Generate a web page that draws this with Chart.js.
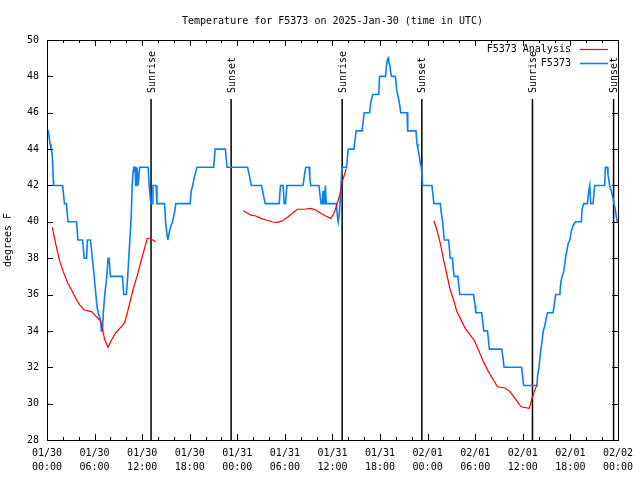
<!DOCTYPE html>
<html>
<head>
<meta charset="utf-8">
<title>Temperature for F5373</title>
<script src="https://cdn.jsdelivr.net/npm/chart.js@4/dist/chart.umd.min.js"></script>
<style>
  html, body { margin: 0; padding: 0; background: #fff; }
  #wrap { width: 640px; height: 480px; }
</style>
</head>
<body>
<div id="wrap"><canvas id="chart" width="640" height="480"></canvas></div>
<script>
// All times are hours after 2025-01-30 00:00 UTC

// Observed temperature (F5373)
const obsHours = [
  0, 0.16, 0.38, 0.50, 0.63, 0.72, 0.79, 0.84, 1.97, 2.20, 2.45, 2.64, 3.73, 3.90, 4.49, 4.69,
  4.99, 5.09, 5.49, 5.65, 5.91, 6.16, 6.32, 6.47, 6.66, 6.79, 6.85, 7.00, 7.10, 7.29, 7.54, 7.70,
  7.83, 8.00, 9.51, 9.68, 10.01, 10.18, 10.34, 10.52, 10.64, 10.74, 10.87, 10.93, 11.12, 11.18,
  11.31, 11.35, 11.43, 11.50, 11.60, 11.69, 12.75, 12.88, 12.98, 13.10, 13.26, 13.36, 13.76,
  13.86, 14.83, 14.95, 15.14, 15.24, 15.46, 15.64, 15.83, 16.08, 16.25, 18.06, 18.18, 18.38,
  18.60, 18.91, 21.02, 21.20, 22.49, 22.71, 25.29, 25.50, 25.76, 27.05, 27.23, 27.52, 29.28,
  29.44, 29.78, 29.91, 30.07, 30.25, 32.29, 32.48, 32.63, 33.05, 33.14, 33.26, 34.30, 34.39,
  34.56, 34.72, 34.81, 34.93, 35.02, 35.10, 35.22, 36.48, 36.63, 36.73, 36.88, 37.01, 37.13,
  37.23, 37.78, 37.99, 38.70, 38.99, 39.74, 40.00, 40.68, 40.84, 41.09, 41.84, 41.93, 42.69,
  42.79, 42.91, 43.01, 43.10, 43.23, 43.35, 43.44, 43.94, 44.11, 44.23, 44.45, 44.61, 45.40,
  45.49, 46.53, 46.66, 46.78, 46.96, 47.08, 47.21, 47.37, 48.54, 48.67, 48.79, 49.60, 49.72,
  49.89, 50.01, 50.10, 50.64, 50.73, 50.85, 51.14, 51.23, 51.36, 51.81, 51.93, 52.06, 53.78,
  53.99, 54.07, 54.82, 54.95, 55.08, 55.54, 55.67, 55.79, 57.34, 57.51, 57.64, 59.85, 59.98,
  60.10, 61.78, 61.86, 62.04, 62.16, 62.29, 62.45, 62.58, 62.79, 62.99, 63.12, 63.83, 64.05,
  64.17, 64.67, 64.80, 64.96, 65.18, 65.38, 65.51, 65.72, 65.93, 66.13, 66.35, 66.64, 67.39,
  67.48, 67.69, 68.15, 68.32, 68.45, 68.57, 68.86, 69.07, 70.33, 70.41, 70.66, 70.74, 70.96,
  71.16, 71.37, 71.50, 71.66, 71.79, 71.92, 72.0
];
const obsTemps = [
  45, 45, 44.3, 44, 43.8, 43.2, 42.3, 42, 42, 41, 41, 40, 40, 39, 39, 38,
  38, 39, 39, 38.3, 37.2, 36, 35.3, 35, 34.7, 34.5, 34, 34, 35, 36, 37, 38,
  38, 37, 37, 36, 36, 37, 38.2, 39.5, 40.5, 42, 42.8, 43, 43, 42,
  42, 43, 43, 42, 42, 43, 43, 42, 42, 41, 41, 42, 42,
  41, 41, 40, 39.3, 39, 39.5, 39.8, 40, 40.5, 41, 41, 41.7, 42,
  42.5, 43, 43, 44, 44, 43, 43, 42.6, 42, 42, 41.6, 41, 41,
  42, 42, 41, 41, 42, 42, 42.6, 43, 43, 42.4, 42, 42, 41.6,
  41, 41, 41.7, 41, 41, 42, 41, 41, 40.3, 40, 40.5, 41.5, 42.5,
  43, 43, 44, 44, 45, 45, 46, 46, 46.6, 47, 47, 48, 48,
  48.5, 48.9, 49, 48.8, 48.6, 48.2, 48, 48, 47.2, 47, 46.5, 46, 46,
  45, 45, 44.3, 44, 43.6, 43.2, 43, 42, 42, 41.5, 41, 41, 40.5,
  40, 39.4, 39, 39, 38.6, 38, 38, 37.4, 37, 37, 36.5, 36, 36,
  35.4, 35, 35, 34.5, 34, 34, 33.5, 33, 33, 32.5, 32, 32, 31.5,
  31, 31, 31.5, 32, 32.5, 33, 33.5, 34, 34.3, 34.8, 35, 35, 35.7,
  36, 36, 36.7, 37, 37.3, 38, 38.3, 38.8, 39, 39.5, 39.8, 40, 40,
  40.7, 41, 41, 41.7, 42, 41, 41, 42, 42, 43, 43, 42.6, 42,
  41.7, 41.3, 41, 40.7, 40.3, 40, 40
];

// Analysis temperature (F5373 Analysis), null marks a gap
const analysisHours = [
  0.67, 1.22, 1.63, 2.05, 2.60, 3.10, 3.73, 4.15, 4.69, 5.62, 6.03, 6.75, 6.91, 7.29, 7.70,
  8.13, 8.67, 9.17, 9.80, 10.22, 10.84, 11.35, 11.90, 12.65, 13.16, 13.70,
  19,
  24.75, 25.30, 25.72, 26.35, 26.98, 27.60, 28.44, 29.07, 29.70, 30.32, 30.95, 31.58, 32.42,
  33.26, 33.89, 34.52, 35.15, 35.78, 36.19, 36.60, 37.03, 37.23, 37.57, 37.74,
  43,
  48.79, 49.17, 49.60, 50.01, 50.30, 50.55, 50.85, 51.27, 51.68, 52.11, 52.74, 53.37, 53.91,
  54.41, 55.04, 55.67, 56.30, 56.80, 57.77, 58.39, 59.02, 59.78, 60.82, 61.11, 61.45, 61.82
];
const analysisTemps = [
  39.7, 38.54, 37.8, 37.26, 36.65, 36.25, 35.7, 35.42, 35.15, 35.06, 34.87, 34.56, 34.23, 33.5, 33.1,
  33.5, 33.9, 34.14, 34.45, 35.15, 36.25, 37.0, 37.9, 39.1, 39.04, 38.9,
  null,
  40.61, 40.47, 40.37, 40.32, 40.19, 40.1, 39.99, 39.97, 40.06, 40.25, 40.47, 40.69, 40.69,
  40.74, 40.65, 40.47, 40.32, 40.19, 40.47, 41.0, 41.66, 42.2, 42.67, 42.94,
  null,
  40.06, 39.55, 38.82, 37.9, 37.35, 36.85, 36.25, 35.7, 35.06, 34.69, 34.14, 33.77, 33.46,
  32.95, 32.31, 31.76, 31.3, 30.93, 30.86, 30.66, 30.29, 29.83, 29.74, 30.2, 30.66, 31.06
];

// Sunrise / sunset markers
const sunHours = [13.12, 23.22, 37.22, 47.27, 61.22, 71.45];
const sunLabels = ['Sunrise', 'Sunset', 'Sunrise', 'Sunset', 'Sunrise', 'Sunset'];

// x tick labels, one per 6 hours
const tickDates = ['01/30', '01/30', '01/30', '01/30', '01/31', '01/31', '01/31', '01/31',
                   '02/01', '02/01', '02/01', '02/01', '02/02'];
const tickTimes = ['00:00', '06:00', '12:00', '18:00', '00:00', '06:00', '12:00', '18:00',
                   '00:00', '06:00', '12:00', '18:00', '00:00'];
const minorStepHours = 2;

const titleText = 'Temperature for F5373 on 2025-Jan-30 (time in UTC)';
const FONT = "10px 'DejaVu Sans Mono', monospace";

Chart.defaults.font.family = "'DejaVu Sans Mono', monospace";
Chart.defaults.font.size = 10;
Chart.defaults.color = '#000';

// gnuplot-like decorations: border, inward ticks, sun markers, key, title
const gnuplotDecor = {
    id: 'gnuplotDecor',
    beforeDatasetsDraw(chart) {
        const { ctx, chartArea: a, scales: { x } } = chart;
        ctx.save();
        ctx.strokeStyle = '#000';
        ctx.fillStyle = '#000';
        ctx.lineWidth = 1.5;
        ctx.font = FONT;
        sunHours.forEach((h, i) => {
            const px = x.getPixelForValue(h);
            ctx.beginPath();
            ctx.moveTo(px, a.top + 59);
            ctx.lineTo(px, a.bottom);
            ctx.stroke();
            ctx.save();
            ctx.translate(px + 1, a.top + 53);
            ctx.rotate(-Math.PI / 2);
            ctx.textAlign = 'left';
            ctx.textBaseline = 'middle';
            ctx.fillText(sunLabels[i], 0, 0);
            ctx.restore();
        });
        ctx.restore();
    },
    afterDatasetsDraw(chart) {
        const { ctx, chartArea: a, scales: { x, y } } = chart;
        ctx.save();
        ctx.strokeStyle = '#000';
        ctx.lineWidth = 1;

        // border
        ctx.strokeRect(Math.round(a.left) + 0.5, Math.round(a.top) + 0.5,
                       Math.round(a.right - a.left), Math.round(a.bottom - a.top));

        ctx.beginPath();
        // y ticks, mirrored on the right
        y.ticks.forEach(t => {
            const py = Math.round(y.getPixelForValue(t.value)) + 0.5;
            ctx.moveTo(a.left, py); ctx.lineTo(a.left + 6, py);
            ctx.moveTo(a.right, py); ctx.lineTo(a.right - 6, py);
        });
        // x ticks: major every 6 h, minor every 2 h, mirrored on top
        for (let h = x.min; h <= x.max; h += minorStepHours) {
            const px = Math.round(x.getPixelForValue(h)) + 0.5;
            const len = (h % 6 === 0) ? 6 : 3;
            ctx.moveTo(px, a.bottom); ctx.lineTo(px, a.bottom - len);
            ctx.moveTo(px, a.top); ctx.lineTo(px, a.top + len);
        }
        ctx.stroke();

        // key in the top right corner
        ctx.font = FONT;
        ctx.fillStyle = '#000';
        ctx.textAlign = 'right';
        ctx.textBaseline = 'middle';
        chart.data.datasets.forEach((ds, i) => {
            const ry = a.top + 9 + i * 14;
            ctx.fillText(ds.label, a.right - 47, ry);
            ctx.strokeStyle = ds.borderColor;
            ctx.lineWidth = ds.borderWidth;
            ctx.beginPath();
            ctx.moveTo(a.right - 38, ry + 0.5);
            ctx.lineTo(a.right - 10, ry + 0.5);
            ctx.stroke();
        });

        // title centred over the plot
        ctx.textAlign = 'center';
        ctx.fillText(titleText, (a.left + a.right) / 2, a.top - 19);
        ctx.restore();
    }
};

const ctx = document.getElementById('chart').getContext('2d');
new Chart(ctx, {
    type: 'line',
    data: {
        datasets: [
            {
                label: 'F5373 Analysis',
                data: analysisHours.map((h, i) => ({ x: h, y: analysisTemps[i] })),
                borderColor: '#ff0000',
                borderWidth: 1.2,
                pointRadius: 0,
                spanGaps: false,
                tension: 0
            },
            {
                label: 'F5373',
                data: obsHours.map((h, i) => ({ x: h, y: obsTemps[i] })),
                borderColor: '#0a80f5',
                borderWidth: 1.6,
                pointRadius: 0,
                tension: 0
            }
        ]
    },
    options: {
        responsive: false,
        devicePixelRatio: 1,
        animation: false,
        layout: { padding: { top: 40, right: 20, left: 0, bottom: 0 } },
        plugins: {
            legend: { display: false },
            title: { display: false },
            tooltip: { enabled: false }
        },
        scales: {
            x: {
                type: 'linear',
                min: 0,
                max: 72,
                grid: { display: false, drawTicks: false },
                border: { display: false },
                ticks: {
                    stepSize: 6,
                    autoSkip: false,
                    maxRotation: 0,
                    padding: 7,
                    font: { size: 10, lineHeight: 1.35 },
                    callback: (v, i) => [tickDates[i], tickTimes[i]]
                },
                afterFit: s => { s.height = 40; }
            },
            y: {
                min: 28,
                max: 50,
                grid: { display: false, drawTicks: false },
                border: { display: false },
                ticks: { stepSize: 2, padding: 8 },
                title: {
                    display: true,
                    text: 'degrees F',
                    font: { size: 10 },
                    padding: { top: 2, bottom: 0 }
                },
                afterFit: s => { s.width = 47; }
            }
        }
    },
    plugins: [gnuplotDecor]
});
</script>
</body>
</html>
